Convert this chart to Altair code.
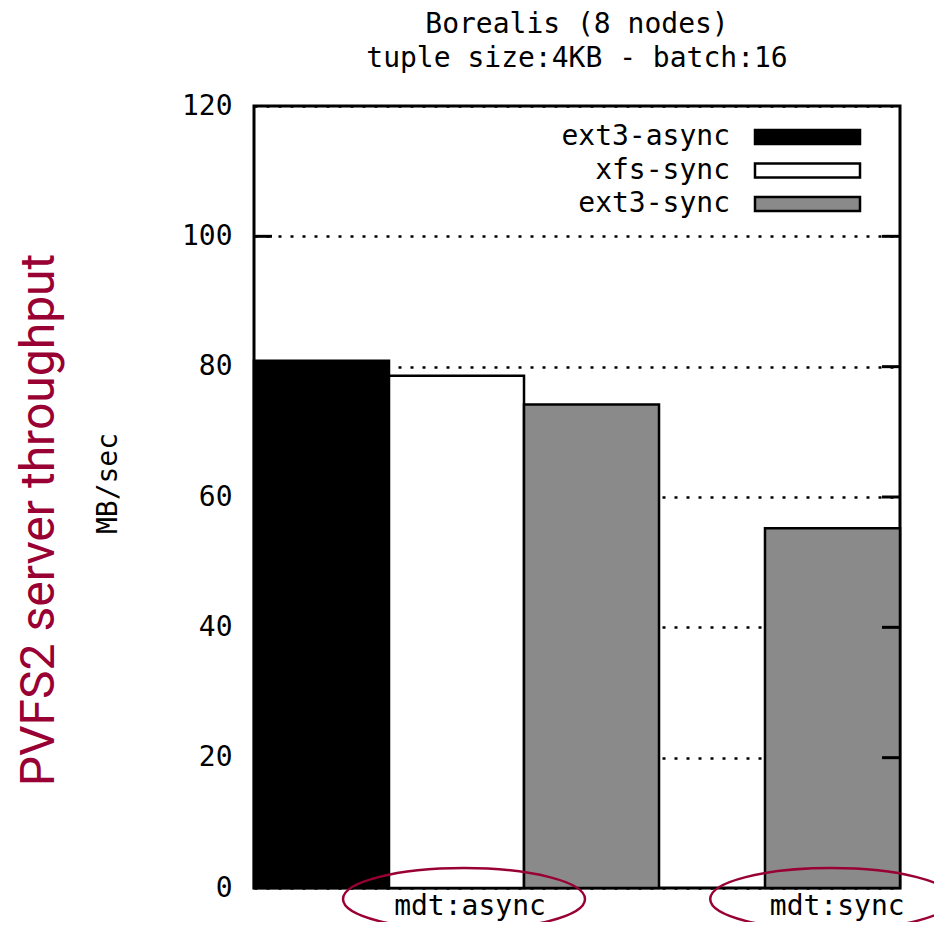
import altair as alt
import pandas as pd

# ---------------- data ----------------
series = ["ext3-async", "xfs-sync", "ext3-sync"]
groups = ["mdt:async", "mdt:sync"]
bar_group = ["mdt:async", "mdt:async", "mdt:async", "mdt:sync"]
bar_series = ["ext3-async", "xfs-sync", "ext3-sync", "ext3-sync"]
bar_value = [80.9, 78.6, 74.2, 55.2]
y_ticks = [0, 20, 40, 60, 80, 100, 120]
title_lines = ["Borealis (8 nodes)", "tuple size:4KB - batch:16"]
y_title = "MB/sec"
annotation = "PVFS2 server throughput"

# ---------------- layout / style ----------------
W, H = 646, 782
MONO = "DejaVu Sans Mono"
FS = 28
CRIMSON = "#990033"
GROUP_START = {"mdt:async": 0.0, "mdt:sync": 1.785}   # slot offset of each cluster
LABEL_POS = {"mdt:async": 1.6, "mdt:sync": 4.32}
X_MAX = 4.785
colors = ["black", "white", "#8a8a8a"]

bars_df = pd.DataFrame({"group": bar_group, "series": bar_series, "value": bar_value})
bars_df["pos"] = [GROUP_START[g] + series.index(s) for g, s in zip(bar_group, bar_series)]
bars_df["pos2"] = bars_df["pos"] + 1
bars_df["base"] = 0

x_scale = alt.Scale(domain=[0, X_MAX], nice=False, zero=False)
y_scale = alt.Scale(domain=[0, 120], nice=False, zero=True)
color_scale = alt.Scale(domain=series, range=colors)

bars = alt.Chart(bars_df).mark_rect(stroke="black", strokeWidth=2.5).encode(
    x=alt.X("pos:Q", scale=x_scale, axis=None),
    x2="pos2:Q",
    y=alt.Y("value:Q", scale=y_scale, title=y_title,
            axis=alt.Axis(values=y_ticks, grid=True, gridDash=[3, 9], gridColor="black",
                          gridWidth=2.5, gridOpacity=1, ticks=False, domain=False,
                          labelFont=MONO, labelFontSize=FS, labelColor="black", labelPadding=22,
                          titleFont=MONO, titleFontSize=FS, titleFontWeight="normal",
                          titleColor="black", titleAngle=270, titleX=-146, titleY=377,
                          titleAlign="center", titleBaseline="middle")),
    y2="base:Q",
    color=alt.Color("series:N", scale=color_scale, legend=None),
)

tick_df = pd.DataFrame({"v": y_ticks[1:-1]})
ticks_left = alt.Chart(tick_df).mark_rule(color="black", strokeWidth=3).encode(
    y=alt.Y("v:Q", scale=y_scale, axis=None), x=alt.value(0), x2=alt.value(18))
ticks_right = alt.Chart(tick_df).mark_rule(color="black", strokeWidth=3).encode(
    y=alt.Y("v:Q", scale=y_scale, axis=None), x=alt.value(W - 18), x2=alt.value(W))

legend_df = pd.DataFrame({"series": series})
leg_y = alt.Y("series:N", scale=alt.Scale(domain=series, range=[31, 98], type="point", padding=0),
              axis=None)
legend_text = alt.Chart(legend_df).mark_text(
    align="right", baseline="middle", font=MONO, fontSize=FS, color="black").encode(
    x=alt.value(476), y=leg_y, text="series:N")
SWATCH = "M-1,-0.133L1,-0.133L1,0.133L-1,0.133Z"
legend_sw = alt.Chart(legend_df).mark_point(
    shape=SWATCH, size=11025, filled=True, stroke="black", strokeWidth=2.5, opacity=1).encode(
    x=alt.value(553.5), y=leg_y,
    color=alt.Color("series:N", scale=color_scale, legend=None))

lab_df = pd.DataFrame({"group": groups, "lpos": [LABEL_POS[g] for g in groups]})
group_labels = alt.Chart(lab_df).mark_text(
    font=MONO, fontSize=FS, color="black", align="center", baseline="alphabetic").encode(
    x=alt.X("lpos:Q", scale=x_scale, axis=None), y=alt.value(H + 27), text="group:N")

ELLIPSE = ("M-1,0 C-1,-0.1414 -0.5523,-0.256 0,-0.256 C0.5523,-0.256 1,-0.1414 1,0 "
           "C1,0.1414 0.5523,0.256 0,0.256 C-0.5523,0.256 -1,0.1414 -1,0 Z")
ellipses = alt.Chart(lab_df).mark_point(
    shape=ELLIPSE, size=58564, filled=False, stroke=CRIMSON, strokeWidth=2.5, opacity=1,
    xOffset=-6).encode(
    x=alt.X("lpos:Q", scale=x_scale, axis=None), y=alt.value(H + 11))

ann = alt.Chart(pd.DataFrame({"t": [annotation]})).mark_text(
    angle=270, font="Roboto", fontSize=48, color=CRIMSON, align="center",
    baseline="alphabetic").encode(x=alt.value(-200), y=alt.value(414), text="t:N")

chart = alt.layer(
    bars, ticks_left, ticks_right, legend_text, legend_sw, group_labels, ellipses, ann
).resolve_scale(y="independent").properties(
    width=W, height=H,
    autosize=alt.AutoSizeParams(type="none"),
    padding={"left": 246, "top": 98, "right": 34, "bottom": 34},
    title=alt.TitleParams(text=title_lines, font=MONO, fontSize=FS, fontWeight="normal",
                          color="black", anchor="middle", offset=19, lineHeight=34),
    background="white",
).configure_view(stroke="black", strokeWidth=3)

chart.save("out.html", embed_options={"renderer": "svg", "actions": False})
